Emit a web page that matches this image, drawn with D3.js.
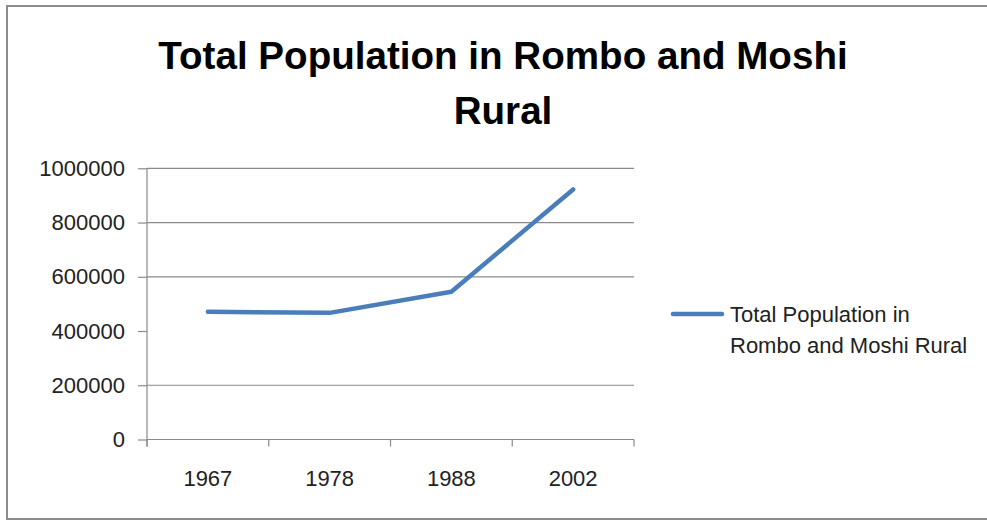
<!DOCTYPE html>
<html><head><meta charset="utf-8">
<script src="https://cdn.jsdelivr.net/npm/d3@7"></script>
<style>
html,body{margin:0;padding:0;background:#fff;}
svg{display:block;font-family:"Liberation Sans",Arial,sans-serif;}
</style></head>
<body><svg id="c" width="987" height="521"></svg>
<script>
const titleLines = ["Total Population in Rombo and Moshi", "Rural"];
const years = ["1967", "1978", "1988", "2002"];
const population = [471000, 467000, 545000, 922000];
const yTicks = [0, 200000, 400000, 600000, 800000, 1000000];
const gridTicks = [0, 200000, 600000, 800000, 1000000];
const legendLines = ["Total Population in", "Rombo and Moshi Rural"];

const svg = d3.select("#c");
const L = 147, R = 634, T = 168.3, B = 439.5;
const gray = "#8a8a8a";

// outer border
svg.append("path").attr("d", "M 988 6 H 7 V 519 H 988")
  .attr("fill", "none").attr("stroke", "#8c8c8c").attr("stroke-width", 2);

// title
svg.selectAll("text.title").data(titleLines).enter().append("text")
  .attr("class", "title")
  .attr("x", 503).attr("y", (d, i) => 69 + i * 55)
  .attr("text-anchor", "middle").attr("font-weight", "bold")
  .attr("font-size", 38.6).attr("fill", "#000").text(d => d);

const x = d3.scaleBand().domain(years).range([L, R]);
const y = d3.scaleLinear().domain([0, 1000000]).range([B, T]);

// gridlines
svg.append("g").selectAll("line").data(gridTicks).enter().append("line")
  .attr("x1", L).attr("x2", R).attr("y1", d => y(d)).attr("y2", d => y(d))
  .attr("stroke", gray).attr("stroke-width", 1.2);

// y axis
const ya = svg.append("g").attr("transform", `translate(${L},0)`)
  .call(d3.axisLeft(y).tickValues(yTicks).tickSize(9).tickPadding(13).tickFormat(d3.format("d")));
ya.select(".domain").remove();
ya.selectAll(".tick line").attr("stroke", gray).attr("stroke-width", 1.2);
ya.selectAll(".tick text").attr("font-size", 22).attr("fill", "#222")
  .attr("font-family", "Liberation Sans, Arial, sans-serif");
svg.append("line").attr("x1", L).attr("x2", L).attr("y1", T).attr("y2", B + 7)
  .attr("stroke", gray).attr("stroke-width", 1.2);

// x axis
svg.append("line").attr("x1", L).attr("x2", R).attr("y1", B).attr("y2", B)
  .attr("stroke", gray).attr("stroke-width", 1.2);
const edges = years.map(d => x(d) + x.bandwidth()).concat([L]);
svg.append("g").selectAll("line").data(edges).enter().append("line")
  .attr("x1", d => d).attr("x2", d => d).attr("y1", B).attr("y2", B + 7)
  .attr("stroke", gray).attr("stroke-width", 1.2);
svg.append("g").selectAll("text").data(years).enter().append("text")
  .attr("x", d => x(d) + x.bandwidth() / 2).attr("y", 486)
  .attr("text-anchor", "middle").attr("font-size", 22).attr("fill", "#222")
  .text(d => d);

// line
const line = d3.line().x((d, i) => x(years[i]) + x.bandwidth() / 2).y(d => y(d));
svg.append("path").datum(population).attr("d", line)
  .attr("fill", "none").attr("stroke", "#4a7ebb").attr("stroke-width", 4.5)
  .attr("stroke-linecap", "round").attr("stroke-linejoin", "round");

// legend
svg.append("line").attr("x1", 673).attr("x2", 722).attr("y1", 314).attr("y2", 314)
  .attr("stroke", "#4a7ebb").attr("stroke-width", 4.5).attr("stroke-linecap", "round");
svg.selectAll("text.leg").data(legendLines).enter().append("text")
  .attr("class", "leg").attr("x", 730).attr("y", (d, i) => 322 + i * 31)
  .attr("font-size", 22).attr("fill", "#222").text(d => d);
</script></body></html>
